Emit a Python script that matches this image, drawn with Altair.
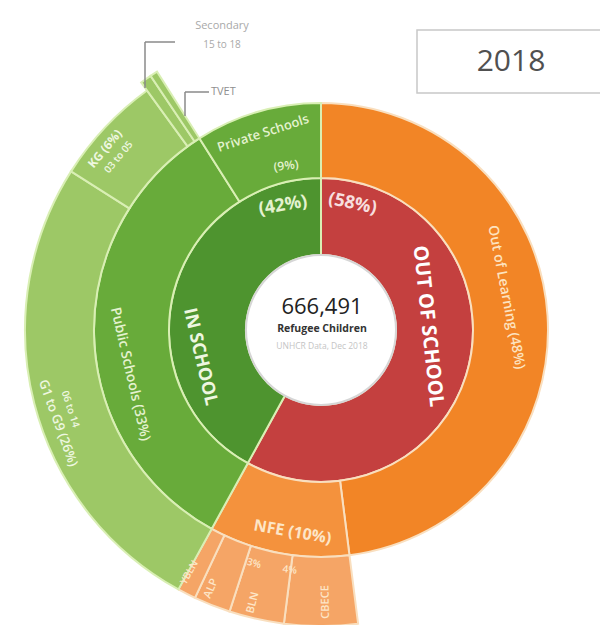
import altair as alt
import pandas as pd

# ---------------- data ----------------
inner_names = ["OUT OF SCHOOL", "IN SCHOOL"]
inner_pct = [58, 42]

middle_names = ["Out of Learning", "NFE", "Public Schools", "Private Schools"]
middle_pct = [48, 10, 33, 9]

outer_names = ["Out of Learning", "CBECE", "BLN", "ALP", "YBLN",
               "G1 to G9", "KG", "Secondary", "TVET", "Private Schools"]
outer_pct = [48, 4, 3, 2, 1, 26, 6, 0.6, 0.4, 9]
outer_blank = ["Out of Learning", "Private Schools"]
outer_slivers = ["Secondary", "TVET"]

total_children = "666,491"

# ---------------- styles ----------------
fill = {
    "OUT OF SCHOOL": "#c4403f", "IN SCHOOL": "#4e942f",
    "Out of Learning": "#f28526", "NFE": "#f4923d",
    "Public Schools": "#68ab3a", "Private Schools": "#68ab3a",
    "CBECE": "#f5a566", "BLN": "#f5a566", "ALP": "#f5a566", "YBLN": "#f5a566",
    "G1 to G9": "#9dc866", "KG": "#9dc866", "Secondary": "#9dc866", "TVET": "#9dc866",
}
border = {k: ("#f9dfbf" if k in ["OUT OF SCHOOL", "Out of Learning", "NFE", "CBECE", "BLN", "ALP", "YBLN"]
              else "#d9efb4") for k in fill}

CX, CY = 313, 322
R0, R1, R2, R3, R4 = 75, 152, 227, 296, 306
FONT = "Open Sans"


def ring_df(names, pct):
    df = pd.DataFrame({"name": names, "pct": pct})
    df["end"] = df["pct"].cumsum() * 3.6
    df["start"] = df["end"] - df["pct"] * 3.6
    df["border"] = df["name"].map(border)
    return df


theta_scale = alt.Scale(domain=[0, 360], range=[0, 6.283185307179586])
color_scale = alt.Scale(domain=list(fill.keys()), range=list(fill.values()))


def ring(df, r_in, r_out):
    return alt.Chart(df).mark_arc(radius=r_out, radius2=r_in, strokeWidth=2).encode(
        theta=alt.Theta("start:Q", scale=theta_scale, stack=None),
        theta2=alt.Theta2("end:Q"),
        color=alt.Color("name:N", scale=color_scale, legend=None),
        stroke=alt.Stroke("border:N", scale=None),
        x=alt.value(CX), y=alt.value(CY),
    )


inner_df = ring_df(inner_names, inner_pct)
middle_df = ring_df(middle_names, middle_pct)
outer_all = ring_df(outer_names, outer_pct)
outer_df = outer_all[~outer_all["name"].isin(outer_blank + outer_slivers)]
sliver_df = outer_all[outer_all["name"].isin(outer_slivers)]

layers = [
    ring(inner_df, R0, R1),
    ring(middle_df, R1, R2),
    ring(outer_df, R2, R3),
    ring(sliver_df, R2, R4),
]

# center disc
layers.append(alt.Chart(pd.DataFrame({"a": [0]})).mark_arc(
    theta=0, theta2=6.2831853, radius=R0 + 1, color="#d6d6d6").encode(
    x=alt.value(CX), y=alt.value(CY)))
layers.append(alt.Chart(pd.DataFrame({"a": [0]})).mark_arc(
    theta=0, theta2=6.2831853, radius=R0 - 1, color="white").encode(
    x=alt.value(CX), y=alt.value(CY)))

# ---------------- ring labels (annotation layout) ----------------
# text, theta(deg), radius, rotation, size, color, weight
labels = [
    ("(58%)", 14, 130, 12, 18, "#f7dede", "bold"),
    ("(42%)", 343, 130, -10, 18, "#e4f2cf", "bold"),
    ("OUT OF SCHOOL", 88, 107, 84, 20, "#ffffff", "bold"),
    ("IN SCHOOL", 257.5, 124, 77, 18, "#eef7e0", "bold"),
    ("Out of Learning  (48%)", 80, 188, 79, 14, "#fde3c0", "600"),
    ("Public Schools (33%)", 257, 196, 77, 14, "#e4f2cf", "600"),
    ("Private Schools", 343.6, 205, -18, 13, "#e4f2cf", "600"),
    ("(9%)", 348, 168, -8, 12, "#e4f2cf", "600"),
    ("NFE (10%)", 188, 204, 10, 16, "#fde6c8", "bold"),
    ("KG (6%)", 310, 282, -50, 12, "#eef7e0", "bold"),
    ("03 to 05", 310.5, 266, -50, 10, "#eef7e0", "600"),
    ("G1 to G9 (26%)", 250.5, 279, 70, 13, "#eef7e0", "600"),
    ("06 to 14", 252.5, 263, 72, 10, "#eef7e0", "600"),
    ("YBLN", 208.5, 276, -61, 10, "#fde6c8", "600"),
    ("ALP", 203, 281, -67, 11, "#fde6c8", "600"),
    ("BLN", 194, 281, -76, 11, "#fde6c8", "600"),
    ("CBECE", 179, 272, -91, 11, "#fde6c8", "600"),
    ("3%", 196, 243, 16, 10, "#fde6c8", "600"),
    ("4%", 187.4, 242, 7, 10, "#fde6c8", "600"),
]
lab = pd.DataFrame(labels, columns=["text", "th", "r", "rot", "fs", "col", "w"])
lab["rot"] = lab["rot"] % 360

for w in ["bold", "600"]:
    sub = lab[lab["w"] == w]
    layers.append(alt.Chart(sub).mark_text(
        font=FONT, fontWeight=700 if w == "bold" else 600,
        align="center", baseline="middle").encode(
        theta=alt.Theta("th:Q", scale=theta_scale, stack=None),
        radius=alt.Radius("r:Q", scale=None),
        angle=alt.Angle("rot:Q", scale=None),
        size=alt.Size("fs:Q", scale=None),
        color=alt.Color("col:N", scale=None),
        text="text:N",
        x=alt.value(CX), y=alt.value(CY),
    ))

# ---------------- center texts ----------------
def txt(s, x, y, size, color, weight="normal", align="center"):
    return alt.Chart(pd.DataFrame({"t": [s]})).mark_text(
        font=FONT, fontSize=size, color=color, fontWeight=weight,
        align=align, baseline="middle").encode(
        text="t:N", x=alt.value(x), y=alt.value(y))

layers += [
    txt(total_children, CX + 1, 299, 22, "#222222"),
    txt("Refugee Children", CX + 1, 321, 10.5, "#333333", "bold"),
    txt("UNHCR Data, Dec 2018", CX + 1, 338, 8.5, "#c4c4c4"),
]

# ---------------- leader lines & side labels ----------------
def rule(x1, y1, x2, y2, color="#8a8a8a"):
    return alt.Chart(pd.DataFrame({"a": [0]})).mark_rule(color=color, strokeWidth=1.5).encode(
        x=alt.value(x1), y=alt.value(y1), x2=alt.value(x2), y2=alt.value(y2))

layers += [
    rule(137, 34, 137, 80), rule(137, 34, 167, 34),
    rule(177, 84, 177, 108), rule(177, 84, 201, 84),
    txt("Secondary", 214, 18, 11, "#a9a9a9"),
    txt("15 to 18", 214, 37, 10, "#a9a9a9"),
    txt("TVET", 203, 84, 11, "#8f8f8f", align="left"),
]

# title box
layers.append(alt.Chart(pd.DataFrame({"a": [0]})).mark_rect(
    fill="white", stroke="#c8c8c8", strokeWidth=1.5).encode(
    x=alt.value(409), x2=alt.value(600), y=alt.value(22), y2=alt.value(85)))
layers.append(txt("2018", 503, 54, 30, "#505050"))

chart = alt.layer(*layers).properties(
    width=592, height=617, padding=0,
    autosize=alt.AutoSizeParams(type="none"),
).configure_view(stroke=None)

chart.save("out.html", embed_options={"renderer": "svg", "actions": False})
